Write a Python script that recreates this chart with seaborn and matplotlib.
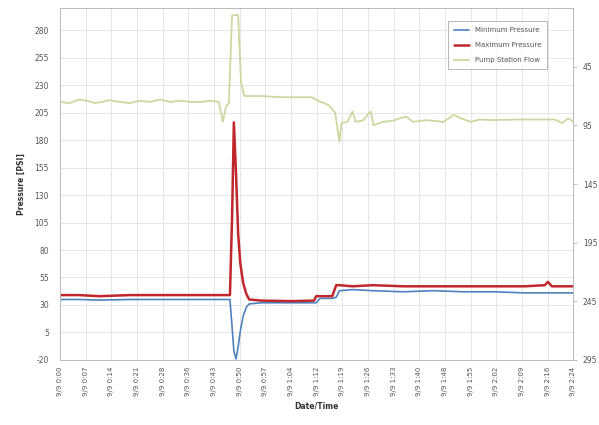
import matplotlib
matplotlib.use("Agg")
import matplotlib.pyplot as plt
import seaborn as sns
import pandas as pd

# ---- data (minutes after 9/9 0:00) ----
flow_t = [0, 2.6, 5.4, 7.7, 9.7, 11.9, 13.9, 16.8, 19.6, 22.4, 25.3, 28.1, 31.0, 33.8,
          36.6, 39.5, 42.3, 44.6, 45.7, 46.6, 47.4, 48.3, 50.0, 50.8, 51.7, 56.5, 62.2,
          67.9, 70.7, 72.4, 74.1, 75.5, 77.2, 78.4, 79.0, 80.7, 82.1, 82.9, 84.9, 87.2,
          88.0, 90.6, 93.4, 95.4, 97.1, 99.1, 102.8, 107.6, 110.5, 112.5, 115.3, 117.6,
          121.8, 127.5, 136.0, 138.9, 140.9, 142.6, 144.0]
flow = [75, 76, 73, 74, 76, 75, 73.5, 75, 76, 74, 75, 73, 75, 74,
        75, 75, 74, 75, 92, 79, 76, 1, 1, 58, 70, 70, 71,
        71, 71, 74, 76, 78, 84, 109, 93, 92, 83, 92, 91, 83,
        95, 92, 91, 89, 87.6, 92, 90.5, 92, 86, 89, 92, 90,
        90.5, 90, 90, 90, 93, 89, 92]

press_t = [0, 5.4, 11.1, 19.6, 28.1, 39.5, 47.7, 48.3, 48.8, 49.4, 50.0, 50.6, 51.4,
           52.3, 53.1, 56.5, 65.0, 71.3, 71.9, 73.0, 76.4, 77.5, 78.4, 82.1, 87.8,
           96.3, 104.8, 113.3, 121.8, 130.4, 136.0, 136.9, 138.0, 141.7, 144.0]
p_max = [39, 39, 38, 39, 39, 39, 39, 110, 196, 150, 95, 68, 50,
         40, 35, 34, 33.5, 34, 38, 38, 38, 48, 48, 47, 48,
         47, 47, 47, 47, 47, 48, 51, 47, 47, 47]
p_min = [35, 35, 34.5, 35, 35, 35, 35, 10, -12, -19, -8, 6, 20,
         28, 31, 32, 32, 32, 32, 36, 36, 37, 43, 44, 43,
         42, 43, 42, 42, 41, 41, 41, 41, 41, 41]

x_ticklabels = ["9/9 0:00", "9/9 0:07", "9/9 0:14", "9/9 0:21", "9/9 0:28", "9/9 0:36",
                "9/9 0:43", "9/9 0:50", "9/9 0:57", "9/9 1:04", "9/9 1:12", "9/9 1:19",
                "9/9 1:26", "9/9 1:33", "9/9 1:40", "9/9 1:48", "9/9 1:55", "9/9 2:02",
                "9/9 2:09", "9/9 2:16", "9/9 2:24"]
left_ticks = [-20, 5, 30, 55, 80, 105, 130, 155, 180, 205, 230, 255, 280]
right_ticks = [45, 95, 145, 195, 245, 295]

sns.set_style("white")
plt.rcParams['font.family'] = ['DejaVu Sans']

fig = plt.figure(figsize=(5.99, 4.25), dpi=100)
ax = fig.add_axes([0.100, 0.153, 0.857, 0.828])
ax2 = ax.twinx()

dfp = pd.DataFrame({"t": press_t, "min": p_min, "max": p_max})
dff = pd.DataFrame({"t": flow_t, "flow": flow})

grid_c = "#e6e6e6"
sns.lineplot(data=dfp, x="t", y="min", ax=ax, color="#4f81bd", linewidth=1.2,
             label="Minimum Pressure", legend=False)
sns.lineplot(data=dfp, x="t", y="max", ax=ax, color="#c0272d", linewidth=1.8,
             label="Maximum Pressure", legend=False)
sns.lineplot(data=dff, x="t", y="flow", ax=ax2, color="#cbd99f", linewidth=1.3,
             label="Pump Station Flow", legend=False)

ax.set_xlim(0, 144)
ax.set_ylim(-20, 300)
ax2.set_ylim(295, -5)

n = len(x_ticklabels)
xt = [i * 144 / (n - 1) for i in range(n)]
ax.set_xticks(xt)
ax.set_xticklabels(x_ticklabels, rotation=90, fontsize=5, color="#555555")
ax.set_yticks(left_ticks)
ax.set_yticklabels([str(v) for v in left_ticks], fontsize=5.5, color="#555555")
ax2.set_yticks(right_ticks)
ax2.set_yticklabels([str(v) for v in right_ticks], fontsize=5.5, color="#555555")

for v in left_ticks:
    ax.axhline(v, color=grid_c, linewidth=0.7, zorder=0)
for v in xt:
    ax.axvline(v, color=grid_c, linewidth=0.7, zorder=0)

ax.tick_params(axis="x", length=3, width=0.5, color="#aaaaaa", pad=2)
ax.tick_params(axis="y", length=0, pad=8)
ax2.tick_params(axis="y", length=3, width=0.5, color="#aaaaaa", pad=4)

for a in (ax, ax2):
    for s in a.spines.values():
        s.set_color("#bbbbbb")
        s.set_linewidth(0.7)

ax.set_xlabel("Date/Time", fontsize=5.5, fontweight="bold", color="#333333", labelpad=4)
ax.set_ylabel("Pressure [PSI]", fontsize=5.5, fontweight="bold", color="#333333", labelpad=6)
ax2.set_ylabel("")

h1, l1 = ax.get_legend_handles_labels()
h2, l2 = ax2.get_legend_handles_labels()
leg = ax2.legend(h1 + h2, l1 + l2, loc="upper right", bbox_to_anchor=(0.955, 0.972),
                 fontsize=5, frameon=True, fancybox=False, edgecolor="#999999",
                 handlelength=2.2, borderpad=0.8, labelspacing=1.3)
leg.get_frame().set_linewidth(0.6)
for t in leg.get_texts():
    t.set_color("#555555")

fig.savefig("out.png", dpi=100)
